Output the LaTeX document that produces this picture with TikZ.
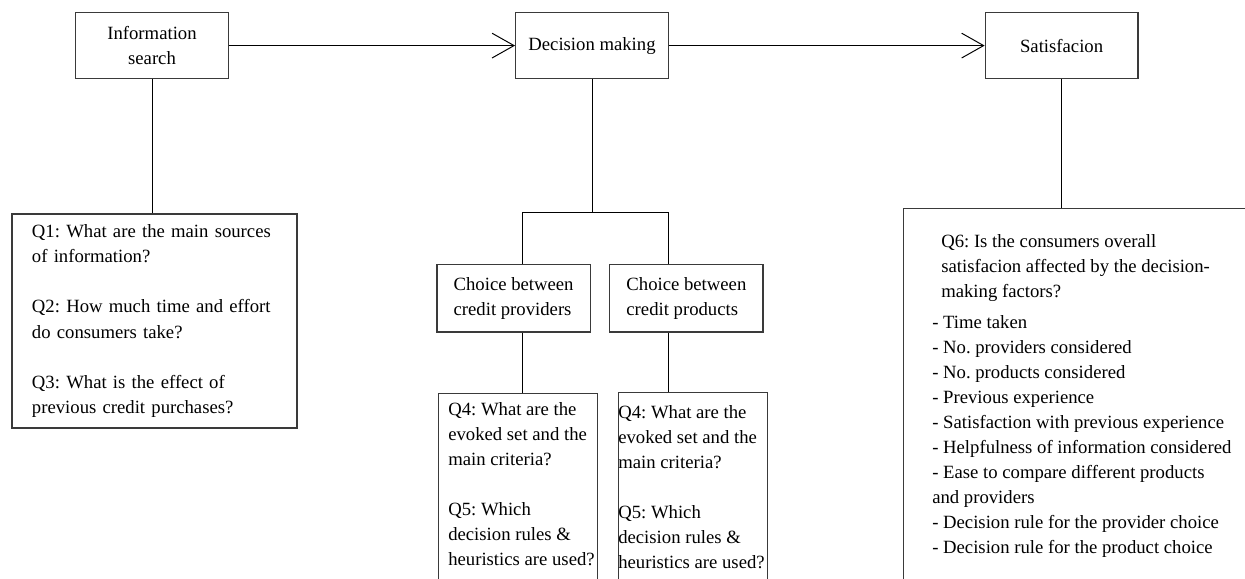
\documentclass[tikz,border=0pt]{standalone}
\usepackage{fontspec}
\setmainfont{Liberation Serif}
\usetikzlibrary{arrows.meta,positioning}
\definecolor{Edge}{HTML}{3A3A3A}
\frenchspacing
\tikzset{
  stage/.style={draw=Edge,line width=0.8pt,minimum width=3.82cm,minimum height=1.66cm,align=center},
  choicebox/.style={draw=Edge,line width=0.8pt,minimum width=3.83cm,minimum height=1.68cm,align=left},
  qbox/.style={draw=Edge,line width=0.8pt,anchor=north west,minimum height=7cm},
  qtext/.style={anchor=north west,inner sep=0pt,align=left},
  link/.style={line width=0.7pt},
  flow/.style={line width=0.7pt,-{Straight Barb[length=0.55cm,width=0.62cm]}}
}
\begin{document}
\begin{tikzpicture}[every node/.style={font=\fontsize{13.3}{17.8}\selectfont}]
    \useasboundingbox (0,0) rectangle (31.125,-14.475);
    \clip (0,0) rectangle (31.125,-14.475);
    % top row
    \node[stage] (info) at (3.80,-1.14) {Information\\search};
    \node[stage] (dec) at (14.80,-1.14) {Decision making};
    \node[stage] (sat) at (26.54,-1.14) {Satisfacion};
    \draw[flow] (info.east) -- (dec.west);
    \draw[flow] (dec.east) -- (sat.west);
    % information search
    \node[draw=Edge,line width=0.8pt,minimum width=7.125cm,minimum height=5.35cm,
      text width=6.125cm,inner xsep=0.5cm,align=left] (qone) at (3.8625,-8.025)
      {Q1: What are the main sources\\of information?\\[17.8pt]
       Q2: How much time and effort\\do consumers take?\\[17.8pt]
       Q3: What is the effect of\\previous credit purchases?};
    \draw[link] (info.south) -- (info.south |- qone.north);
    % decision making
    \coordinate (jl) at (13.05,-5.30);
    \coordinate (jr) at (16.70,-5.30);
    \node[choicebox] (chp) at (12.84,-7.46) {Choice between\\credit providers};
    \node[choicebox] (chq) at (17.16,-7.46) {Choice between\\credit products};
    \draw[link] (dec.south) -- (dec.south |- jl);
    \draw[link] (chp.north -| jl) -- (jl) -- (jr) -- (chq.north -| jr);
    \node[qbox,minimum width=3.975cm] (qa) at (10.95,-9.825) {};
    \node[qbox,minimum width=3.725cm] (qb) at (15.45,-9.80) {};
    \draw[link] (chp.south -| jl) -- (qa.north -| jl);
    \draw[link] (chq.south -| jr) -- (qb.north -| jr);
    \node[qtext] (qatext) at ([shift={(0.25,-0.225)}]qa.north west)
      {Q4: What are the\\evoked set and the\\main criteria?\\[17.8pt]
       Q5: Which\\decision rules \&\\heuristics are used?};
    \node[qtext] (qbtext) at ([shift={(0,-0.325)}]qb.north west)
      {Q4: What are the\\evoked set and the\\main criteria?\\[17.8pt]
       Q5: Which\\decision rules \&\\heuristics are used?};
    % satisfaction
    \node[qbox,minimum width=10cm,minimum height=10cm] (qsix) at (22.575,-5.20) {};
    \draw[link] (sat.south) -- (sat.south |- qsix.north);
    \node[qtext] (qsixtext) at ([shift={(0.95,-0.65)}]qsix.north west)
      {Q6: Is the consumers overall\\satisfacion affected by the decision-\\making factors?};
    \node[qtext] (factors) at ([shift={(0.725,-2.675)}]qsix.north west)
      {- Time taken\\- No. providers considered\\- No. products considered\\
       - Previous experience\\- Satisfaction with previous experience\\
       - Helpfulness of information considered\\- Ease to compare different products\\
       and providers\\- Decision rule for the provider choice\\
       - Decision rule for the product choice};
  \end{tikzpicture}
\end{document}
